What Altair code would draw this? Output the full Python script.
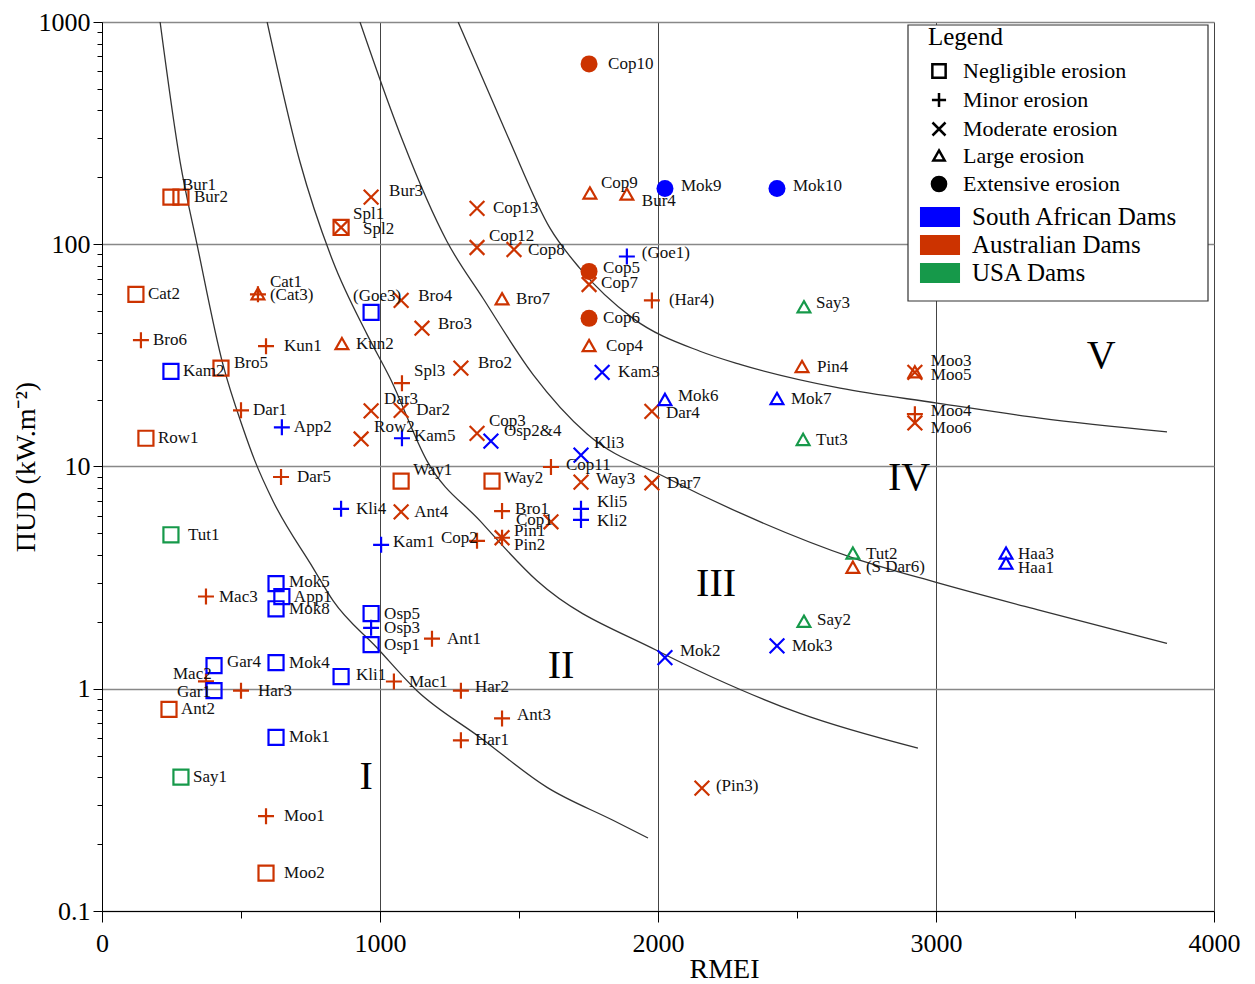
import altair as alt
import pandas as pd

# ---------------- data ----------------
names = ["Bur1","Bur2","Bur3","Spl1","Spl2","Cat2","Cat1","(Cat3)","Bro6","Kun1",
         "Kun2","Bro5","Dar1","Row1","Bro4","Bro3","Bro7","Bro2","Spl3","Dar3",
         "Dar2","Row2","Cop13","Cop12","Cop8","Cop9","Bur4","Cop10","Cop5","Cop7",
         "Cop6","Cop4","(Har4)","Dar4","Dar7","Cop3","Cop11","Way3","Way1","Way2",
         "Ant4","Bro1","Cop1","Pin1","Pin2","Cop2","Dar5","Mac3","Ant1","Mac1",
         "Har2","Har3","Mac2","Ant2","Ant3","Har1","(Pin3)","Moo1","Moo2","Pin4",
         "Moo3","Moo5","Moo4","Moo6","(S Dar6)",
         "Kam2","(Goe3)","App2","Kam5","Osp2&4","Kli3","Kam3","(Goe1)","Mok9","Mok10",
         "Mok6","Mok7","Kli5","Kli2","Kli4","Kam1","Mok5","App1","Mok8","Osp5",
         "Osp3","Osp1","Gar4","Mok4","Kli1","Gar1","Mok1","Mok2","Mok3","Haa3","Haa1",
         "Say3","Tut3","Tut2","Say2","Tut1","Say1"]

rmei = [248, 284, 968, 860, 860, 122, 561, 561, 140, 590,
        863, 428, 500, 158, 1076, 1151, 1439, 1291, 1079, 968,
        1076, 932, 1349, 1349, 1482, 1755, 1888, 1752, 1752, 1752,
        1752, 1752, 1978, 1978, 1978, 1349, 1615, 1723, 1076, 1403,
        1076, 1439, 1615, 1439, 1439, 1349, 644, 374, 1187, 1050,
        1291, 500, 374, 241, 1439, 1291, 2158, 590, 590, 2518,
        2924, 2924, 2924, 2924, 2701,
        248, 968, 647, 1079, 1399, 1723, 1799, 1888, 2025, 2428,
        2025, 2428, 1723, 1723, 860, 1004, 626, 647, 626, 968,
        968, 968, 403, 626, 860, 403, 626, 2025, 2428, 3252, 3252,
        2525, 2522, 2701, 2525, 248, 284]

pi_ud = [163, 163, 163, 119, 119, 59.5, 59.5, 59.5, 37, 34.8,
         35.5, 27.7, 17.9, 13.4, 55.9, 41.9, 56.5, 27.7, 23.7, 17.8,
         17.9, 13.3, 145, 96.7, 94.7, 169, 167, 648, 75.5, 65.9,
         46.4, 34.8, 55.9, 17.7, 8.43, 14.1, 9.95, 8.5, 8.6, 8.6,
         6.25, 6.3, 5.64, 4.78, 4.78, 4.63, 8.97, 2.6, 1.68, 1.078,
         0.98, 0.98, 1.08, 0.807, 0.735, 0.586, 0.357, 0.267, 0.148, 28,
         26.5, 26.5, 17.2, 15.7, 3.5,
         26.8, 49.4, 15.0, 13.4, 13.0, 11.26, 26.5, 88.1, 178, 178,
         19.9, 20.1, 6.45, 5.75, 6.45, 4.44, 2.97, 2.6, 2.29, 2.18,
         1.88, 1.58, 1.27, 1.31, 1.135, 0.98, 0.604, 1.38, 1.56, 4.05, 3.65,
         52, 13.15, 4.05, 2.0, 4.93, 0.4]

N, MI, MO, LG, EX = ("Negligible erosion", "Minor erosion", "Moderate erosion",
                     "Large erosion", "Extensive erosion")
erosion = [N, N, MO, N, MO, N, LG, MI, MI, MI,
           LG, N, MI, N, MO, MO, LG, MO, MI, MO,
           MO, MO, MO, MO, MO, LG, LG, EX, EX, MO,
           EX, LG, MI, MO, MO, MO, MI, MO, N, N,
           MO, MI, MO, MI, MO, MI, MI, MI, MI, MI,
           MI, MI, MI, N, MI, MI, MO, MI, N, LG,
           LG, MO, MI, MO, LG,
           N, N, MI, MI, MO, MO, MO, MI, EX, EX,
           LG, LG, MI, MI, MI, MI, N, N, N, N,
           MI, N, N, N, N, N, N, MO, MO, LG, LG,
           LG, LG, LG, LG, N, N]

SA, AU, US = "South African Dams", "Australian Dams", "USA Dams"
country = [AU] * 65 + [SA] * 31 + [US] * 6

# label offsets (pixels) -- style, kept apart from the data
label_dx = [11, 13, 18, 12, 22, 12, 12, 12, 12, 18,
            14, 13, 12, 12, 17, 16, 14, 17, 12, 13,
            15, 13, 16, 12, 14, 11, 15, 19, 14, 12,
            14, 17, 17, 14, 15, 12, 15, 15, 12, 12,
            13, 13, -35, 12, 12, -36, 16, 13, 15, 15,
            14, 17, -33, 12, 15, 14, 14, 18, 18, 15,
            16, 16, 16, 16, 13,
            12, -18, 12, 12, 13, 13, 16, 15, 16, 16,
            13, 14, 16, 16, 15, 12, 13, 12, 13, 13,
            13, 13, 13, 13, 15, -37, 13, 15, 15, 12, 12,
            12, 13, 13, 13, 17, 12]
label_dy = [-12, 0, -6, -13, 2, 0, -12, 1, 0, 0,
            0, -5, 0, 0, -4, -4, 0, -5, -12, -12,
            0, -12, 0, -11, 0, -11, 6, 0, -3, -2,
            0, 0, 0, 2, 0, -12, -2, -3, -11, -3,
            0, -2, -2, -7, 7, -3, 0, 0, 0, 0,
            -4, 0, -7, 0, -3, 0, -2, 0, 0, 0,
            -11, 3, -3, 5, -1,
            0, -16, 0, -2, -10, -12, 0, -3, -3, -3,
            -4, 0, -7, 1, 0, -3, -2, 0, 0, 0,
            0, 0, -4, 0, -2, 1, 0, -7, 0, 0, 4,
            -4, 0, 0, -2, 0, 0]

# boundary curves
curve_A_x = [209, 281, 342, 435, 507, 550, 615, 759, 831, 989, 1133, 1360, 1601, 1838, 1964]
curve_A_y = [1000, 235, 99.7, 28.8, 14.9, 10.6, 7.0, 3.5, 2.49, 1.53, 0.98, 0.604, 0.36, 0.256, 0.213]
curve_B_x = [594, 712, 831, 953, 1036, 1169, 1360, 1565, 1996, 2198, 2511, 2935]
curve_B_y = [1000, 235, 83.6, 39.4, 25.0, 10.6, 5.69, 3.06, 1.486, 1.124, 0.774, 0.54]
curve_C_x = [928, 1029, 1083, 1241, 1371, 1550, 1745, 2032, 2295, 2701, 3004, 3374, 3831]
curve_C_y = [1000, 437, 289, 102.9, 57.0, 26.0, 14.0, 8.88, 6.18, 3.88, 3.0, 2.25, 1.6]
curve_D_x = [1281, 1406, 1468, 1612, 1719, 1910, 2151, 2295, 2655, 3004, 3374, 3831]
curve_D_y = [1000, 437, 289, 117.8, 77.9, 46.4, 33.0, 28.8, 22.5, 19.3, 16.5, 14.3]

zone_names = ["I", "II", "III", "IV", "V"]
zone_x = [950, 1651, 2209, 2903, 3594]
zone_y = [0.4, 1.27, 2.97, 8.88, 31.3]

erosion_domain = [N, MI, MO, LG, EX]
country_domain = [SA, AU, US]
country_colors = ["#0000ff", "#cc3300", "#16994a"]

FONT = "Liberation Serif"

# ---------------- tables ----------------
pts = pd.DataFrame({"name": names, "rmei": rmei, "pi": pi_ud, "erosion": erosion,
                    "country": country, "dx": label_dx, "dy": label_dy})
open_pts = pts[pts.erosion != EX]
filled_pts = pts[pts.erosion == EX]
legend_items = pd.DataFrame({"erosion": erosion_domain})

curves = []
for cid, xs, ys in [("A", curve_A_x, curve_A_y), ("B", curve_B_x, curve_B_y),
                    ("C", curve_C_x, curve_C_y), ("D", curve_D_x, curve_D_y)]:
    for i, (a, b) in enumerate(zip(xs, ys)):
        curves.append({"curve": cid, "rmei": a, "pi": b, "order": i})
curves = pd.DataFrame(curves)
zones = pd.DataFrame({"z": zone_names, "rmei": zone_x, "pi": zone_y})

# ---------------- scales / axes ----------------
x_vals = [0, 500, 1000, 1500, 2000, 2500, 3000, 3500, 4000]
y_vals = [0.1, 0.2, 0.3, 0.4, 0.5, 0.6, 0.7, 0.8, 0.9,
          1, 2, 3, 4, 5, 6, 7, 8, 9,
          10, 20, 30, 40, 50, 60, 70, 80, 90,
          100, 200, 300, 400, 500, 600, 700, 800, 900, 1000]
ymajor = "indexof([0.1, 1, 10, 100, 1000], datum.value) >= 0"
xmajor = "datum.value % 1000 == 0"

X = alt.X("rmei:Q", scale=alt.Scale(domain=[0, 4000], nice=False, zero=False),
          axis=alt.Axis(values=x_vals, format="d", title="RMEI", labelFlush=False,
                        labelExpr=f"{xmajor} ? datum.label : ''",
                        tickSize={"condition": {"test": xmajor, "value": 11}, "value": 7},
                        grid=True, gridColor="#444", gridWidth=1,
                        gridOpacity={"condition": {"test": xmajor, "value": 1}, "value": 0},
                        labelFont=FONT, labelFontSize=26, labelColor="black",
                        labelPadding=8, tickColor="black", domainColor="black",
                        titleFont=FONT, titleFontSize=28, titleFontWeight="normal",
                        titleColor="black", titleX=622, titlePadding=-1))
Y = alt.Y("pi:Q", scale=alt.Scale(type="log", domain=[0.1, 1000], nice=False),
          axis=alt.Axis(values=y_vals, title="ΠUD (kW.m⁻²)",
                        labelExpr=f"{ymajor} ? toString(datum.value) : ''",
                        tickSize={"condition": {"test": ymajor, "value": 9}, "value": 5},
                        grid=True, gridColor="#888", gridWidth=1.5,
                        gridOpacity={"condition": {"test": ymajor, "value": 1}, "value": 0},
                        labelFont=FONT, labelFontSize=26, labelColor="black",
                        labelPadding=3, tickColor="black", domainColor="black",
                        titleFont=FONT, titleFontSize=28, titleFontWeight="normal",
                        titleColor="black", titleX=-62))

shape_paths = ["M-0.94,-0.94H0.94V0.94H-0.94Z",
               "M-1,0H1M0,-1V1",
               "M-0.92,-0.92L0.92,0.92M-0.92,0.92L0.92,-0.92",
               "M0,-0.78L0.8,0.62L-0.8,0.62Z",
               "circle"]
legend_fills = ["transparent", "transparent", "transparent", "transparent", "black"]
legend_strokes = ["black", "black", "black", "black", "black"]

erosion_legend = alt.Legend(
    title="Legend", orient="none", legendX=826, legendY=3,
    titleFont=FONT, titleFontSize=25, titleFontWeight="normal",
    titleColor="black", titlePadding=10,
    labelFont=FONT, labelFontSize=22, labelColor="black", labelLimit=400,
    labelOffset=13, symbolSize=200, symbolStrokeWidth=2.5, symbolOpacity=1,
    rowPadding=4, padding=0)

country_legend = alt.Legend(
    title=None, orient="none", legendX=824, legendY=181,
    labelFont=FONT, labelFontSize=25, labelColor="black", labelLimit=400,
    labelOffset=18, symbolType="M-1.43,-0.71H1.43V0.71H-1.43Z", symbolSize=784,
    symbolStrokeWidth=0, symbolOpacity=1, rowPadding=1, padding=0)

country_scale = alt.Scale(domain=country_domain, range=country_colors)

# ---------------- layers ----------------
curve_layer = alt.Chart(curves).mark_line(color="#333", strokeWidth=1.3,
                                          interpolate="monotone", clip=True).encode(
    x=X, y=Y, detail="curve:N", order="order:Q")

frame = alt.Chart(pd.DataFrame({"k": [0]})).mark_rect(
    fill="white", stroke="#333", strokeWidth=1.2).encode(
    x=alt.value(806), x2=alt.value(1106), y=alt.value(3), y2=alt.value(279))

open_layer = alt.Chart(open_pts).mark_point(filled=False, size=256, strokeWidth=2.2,
                                             opacity=1).encode(
    x=X, y=Y,
    shape=alt.Shape("erosion:N", scale=alt.Scale(domain=erosion_domain, range=shape_paths),
                    legend=None),
    stroke=alt.Stroke("country:N", scale=country_scale, legend=None))

filled_layer = alt.Chart(filled_pts).mark_point(filled=True, shape="circle", size=289,
                                                 opacity=1, strokeWidth=0).encode(
    x=X, y=Y,
    color=alt.Color("country:N", scale=country_scale, legend=country_legend))

# legend-only layer for the erosion classes (its marks sit outside the clipped plot)
legend_layer = alt.Chart(legend_items).mark_point(size=200, strokeWidth=2.5, opacity=1,
                                                   clip=True).encode(
    x=alt.value(-60), y=alt.value(-60),
    shape=alt.Shape("erosion:N", scale=alt.Scale(domain=erosion_domain, range=shape_paths),
                    legend=erosion_legend),
    fill=alt.Fill("erosion:N", scale=alt.Scale(domain=erosion_domain, range=legend_fills),
                  legend=erosion_legend),
    stroke=alt.Stroke("erosion:N", scale=alt.Scale(domain=erosion_domain, range=legend_strokes),
                      legend=erosion_legend))

# labels: one text layer per distinct pixel offset
label_layers = []
for (ddx, ddy), grp in pts.groupby(["dx", "dy"]):
    label_layers.append(
        alt.Chart(grp).mark_text(font=FONT, fontSize=17, color="#111", align="left",
                                 baseline="middle", dx=int(ddx), dy=int(ddy)).encode(
            x=X, y=Y, text="name:N"))

zone_layer = alt.Chart(zones).mark_text(font=FONT, fontSize=40, color="black",
                                        align="center", baseline="middle").encode(
    x=X, y=Y, text="z:N")

chart = alt.layer(curve_layer, frame, open_layer, filled_layer, legend_layer,
                  *label_layers, zone_layer).resolve_scale(
    shape="independent", fill="independent", stroke="independent").properties(
    width=1112, height=889,
    padding={"left": 94, "top": 14, "right": 33, "bottom": 73},
    autosize=alt.AutoSizeParams(type="none"),
).configure_view(stroke="#333", strokeWidth=1.2).configure(background="white")

chart.save("out.html", embed_options={"renderer": "svg", "actions": False})
